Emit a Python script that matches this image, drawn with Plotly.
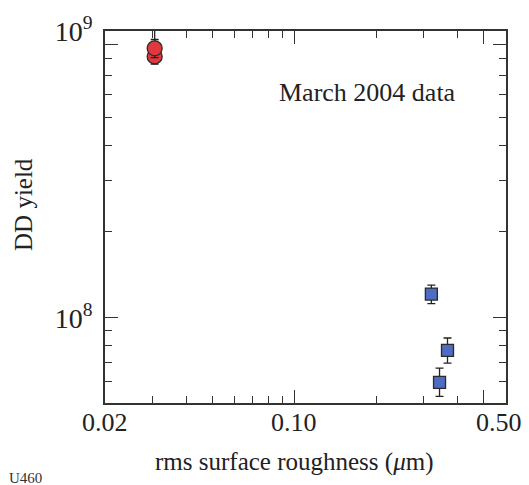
import plotly.graph_objects as go
import math

# ---- data ----
red_x = [0.0305, 0.0305]
red_y = [8.15e8, 8.70e8]          # lower point drawn first, upper on top
red_hi = [9.34e8, 1.06e9]
red_lo = [7.66e8, 8.07e8]

blue_x = [0.320, 0.367, 0.343]
blue_y = [1.21e8, 7.7e7, 5.95e7]
blue_hi = [1.30e8, 8.5e7, 6.67e7]
blue_lo = [1.12e8, 6.95e7, 5.32e7]

x_label_vals = [0.02, 0.1, 0.567]
x_label_text = ["0.02", "0.10", "0.50"]
x_major = [0.1, 0.5]
x_minor = [0.03, 0.04, 0.05, 0.06, 0.07, 0.08, 0.09, 0.2, 0.3, 0.4]
y_major = [1e8, 9e8, 1e9]
y_major_text = ["10<sup>8</sup>", "", "10<sup>9</sup>"]
y_minor = [6e7, 7e7, 8e7, 9e7, 2e8, 3e8, 4e8, 5e8, 6e8, 7e8, 8e8]

FONT = "Liberation Serif"
INK = "#222222"

fig = go.Figure()

for i in range(len(red_x)):
    fig.add_trace(go.Scatter(
        x=[red_x[i]], y=[red_y[i]], mode="markers",
        marker=dict(symbol="circle", size=15, color="#E0383E",
                    line=dict(color="#2a2a2a", width=1.3)),
        error_y=dict(type="data", symmetric=False,
                     array=[red_hi[i] - red_y[i]],
                     arrayminus=[red_y[i] - red_lo[i]],
                     color=INK, thickness=1.3, width=4),
        showlegend=False, cliponaxis=True))

for i in range(len(blue_x)):
    fig.add_trace(go.Scatter(
        x=[blue_x[i]], y=[blue_y[i]], mode="markers",
        marker=dict(symbol="square", size=12, color="#4D6DC2",
                    line=dict(color="#2a2a2a", width=1.3)),
        error_y=dict(type="data", symmetric=False,
                     array=[blue_hi[i] - blue_y[i]],
                     arrayminus=[blue_y[i] - blue_lo[i]],
                     color=INK, thickness=1.3, width=4),
        showlegend=False))

fig.update_layout(
    width=529, height=485,
    margin=dict(l=105, r=23, t=22, b=82, pad=0),
    paper_bgcolor="white", plot_bgcolor="white",
    font=dict(family=FONT, color=INK, size=26),
    xaxis=dict(type="log", range=[math.log10(0.02), -0.2195],
               showgrid=False, zeroline=False,
               showline=True, linecolor="#333333", linewidth=1.5, mirror="ticks",
               ticks="inside", ticklen=13, tickwidth=1.3, tickcolor="#333333",
               tickvals=x_major, showticklabels=False,
               minor=dict(tickvals=x_minor, ticks="inside", ticklen=7,
                          tickwidth=1.3, tickcolor="#333333", showgrid=False)),
    yaxis=dict(type="log", range=[7.7028, 9],
               showgrid=False, zeroline=False,
               showline=True, linecolor="#333333", linewidth=1.5, mirror="ticks",
               ticks="inside", ticklen=13, tickwidth=1.3, tickcolor="#333333",
               tickvals=y_major, ticktext=y_major_text, ticklabelstandoff=5,
               tickfont=dict(family=FONT, size=28, color=INK),
               minor=dict(tickvals=y_minor, ticks="inside", ticklen=7,
                          tickwidth=1.3, tickcolor="#333333", showgrid=False)),
)

# x tick labels
for v, t in zip(x_label_vals, x_label_text):
    fig.add_annotation(x=math.log10(v), y=0, xref="x", yref="paper",
                       text=t, showarrow=False, xanchor="center", yanchor="top",
                       yshift=-3, font=dict(family=FONT, size=26, color=INK))

fig.add_annotation(x=0.471, y=-0.158, xref="paper", yref="paper",
                   text="rms surface roughness (<i>\u03bc</i>m)", showarrow=False,
                   xanchor="center", yanchor="middle",
                   font=dict(family=FONT, size=25, color=INK))
fig.add_annotation(x=-0.202, y=0.535, xref="paper", yref="paper",
                   text="DD yield", textangle=-90, showarrow=False,
                   xanchor="center", yanchor="middle",
                   font=dict(family=FONT, size=25, color=INK))
fig.add_annotation(x=0.6546, y=0.835, xref="paper", yref="paper",
                   text="March 2004 data", showarrow=False,
                   xanchor="center", yanchor="middle",
                   font=dict(family=FONT, size=26, color=INK))
fig.add_annotation(x=-0.244, y=-0.176, xref="paper", yref="paper",
                   text="U460", showarrow=False,
                   xanchor="left", yanchor="top",
                   font=dict(family=FONT, size=15, color="#333333"))

fig.write_html("out.html")
